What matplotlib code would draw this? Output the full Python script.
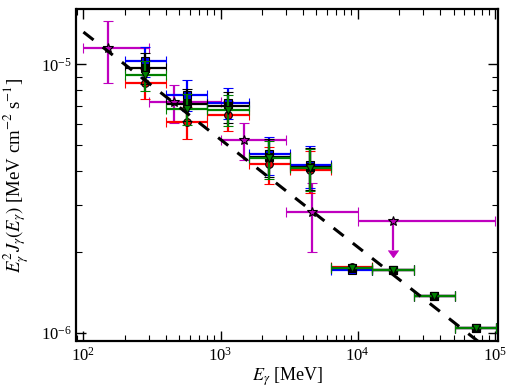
import numpy as np
import matplotlib
matplotlib.use('Agg')
import matplotlib.pyplot as plt
from matplotlib.ticker import LogLocator, NullFormatter

plt.rcParams['font.family'] = 'serif'
plt.rcParams['font.serif'] = ['Liberation Serif', 'DejaVu Serif']
plt.rcParams['mathtext.fontset'] = 'stix'

# ── data ───────────────────────────────────────────────────────────────────
# energy bins (MeV) shared by the four coloured series
bin_lo = [200, 400, 800, 1600, 3200, 6400, 12800, 25600, 51200]
bin_hi = [400, 800, 1600, 3200, 6400, 12800, 25600, 51200, 102400]
E_c    = [283, 566, 1130, 2260, 4520, 9050, 18100, 36200, 72400]

flux_blue  = [1.029e-5, 7.72e-6, 7.21e-6, 4.62e-6, 4.21e-6, 1.72e-6, 1.713e-6, 1.37e-6, 1.044e-6]
flux_black = [9.73e-6, 7.11e-6, 6.97e-6, 4.53e-6, 4.14e-6, 1.738e-6, 1.713e-6, 1.37e-6, 1.044e-6]
flux_green = [9.12e-6, 6.84e-6, 6.79e-6, 4.47e-6, 4.11e-6, 1.738e-6, 1.713e-6, 1.37e-6, 1.044e-6]
flux_red   = [8.54e-6, 6.11e-6, 6.47e-6, 4.25e-6, 4.04e-6, 1.75e-6, 1.713e-6, 1.37e-6, 1.044e-6]

err_blue  = [1.34e-6, 1.04e-6, 0.94e-6, 0.74e-6, 0.76e-6, 0, 0, 0, 0]
err_black = [1.26e-6, 0.96e-6, 0.91e-6, 0.72e-6, 0.75e-6, 0, 0, 0, 0]
err_green = [1.19e-6, 0.92e-6, 0.88e-6, 0.72e-6, 0.74e-6, 0, 0, 0, 0]
err_red   = [1.11e-6, 0.83e-6, 0.84e-6, 0.68e-6, 0.73e-6, 0, 0, 0, 0]

# magenta points (stars)
mag_E   = [150, 458, 1490, 4610]
mag_lo  = [100, 300, 1000, 3000]
mag_hi  = [300, 1000, 3000, 10000]
mag_F   = [1.15e-5, 7.22e-6, 5.22e-6, 2.81e-6]
mag_err = [3.0e-6, 1.18e-6, 0.82e-6, 0.81e-6]

# magenta upper limit
ul_E, ul_lo, ul_hi = 18000, 10000, 100000
ul_F, ul_arrow = 2.61e-6, 0.57e-6

# dashed power-law line (end points)
line_E = [100, 1.0e5]
line_F = [1.32e-5, 8.3e-7]

# ── plot ───────────────────────────────────────────────────────────────────
fig = plt.figure(figsize=(5.1, 3.92), dpi=100)
ax = fig.add_axes([0.150, 0.130, 0.827, 0.846])
ax.set_xscale('log'); ax.set_yscale('log')

mE = np.array(mag_E)
ax.errorbar(mag_E, mag_F, yerr=mag_err,
            xerr=[mE - np.array(mag_lo), np.array(mag_hi) - mE],
            fmt='*', color='m', mfc='m', mec='k', ms=7, mew=0.8,
            lw=1.6, capsize=3.5, capthick=1.2, zorder=2)
ax.errorbar([ul_E], [ul_F], yerr=[[ul_arrow], [0]],
            xerr=[[ul_E - ul_lo], [ul_hi - ul_E]], uplims=True,
            fmt='*', color='m', mfc='m', mec='k', ms=7, mew=0.8,
            lw=1.6, capsize=3.5, capthick=1.2, zorder=2)

E = np.array(E_c)
xerr = [E - np.array(bin_lo), np.array(bin_hi) - E]
series = [
    (flux_red,   err_red,   'red',       'o'),
    (flux_blue,  err_blue,  'blue',      's'),
    (flux_black, err_black, 'black',     's'),
    (flux_green, err_green, 'green',     'v'),
]
for i, (f, e, c, m) in enumerate(series):
    ax.errorbar(E_c, f, yerr=e, xerr=xerr, fmt=m, color=c, mfc=c, mec='k',
                ms=5.5, mew=0.8, lw=1.6, capsize=3.5, capthick=1.2, zorder=3 + i)

ax.plot(line_E, line_F, color='k', lw=2.2, ls=(0, (4.2, 3.8)), zorder=10)

ax.set_xlim(89, 1.06e5)
ax.set_ylim(9.31e-7, 1.603e-5)

ax.yaxis.set_minor_locator(LogLocator(base=10, subs=np.arange(2, 10)))
ax.yaxis.set_minor_formatter(NullFormatter())
ax.tick_params(which='both', direction='in', top=True, right=True, labelsize=12)
ax.tick_params(which='major', length=7, width=1.0)
ax.tick_params(axis='x', which='major', pad=4)
ax.tick_params(which='minor', length=4, width=0.8)
for s in ax.spines.values():
    s.set_linewidth(1.6)

ax.set_xlabel(r'$E_\gamma$ [MeV]', fontsize=13, labelpad=1)
ax.set_ylabel(r'$E_\gamma^2 J_\gamma(E_\gamma)$ [MeV cm$^{-2}$ s$^{-1}$]', fontsize=13.5, labelpad=7)

fig.savefig('out.png', dpi=100)
